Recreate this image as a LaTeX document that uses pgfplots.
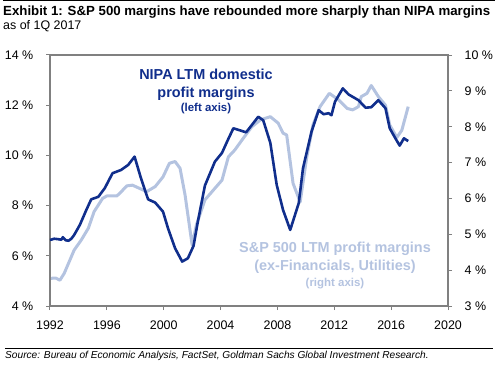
\documentclass[border=0pt]{standalone}
\usepackage{pgfplots}
\pgfplotsset{compat=1.18}
\usepackage{fontspec}
\setmainfont{Liberation Sans}
\definecolor{nipa}{RGB}{16,46,140}
\definecolor{spx}{RGB}{180,195,224}
\definecolor{axgray}{RGB}{128,128,128}
\begin{document}
\begin{tikzpicture}
\path[use as bounding box] (-50bp,-60bp) rectangle (451bp,306bp);
% title block
\draw[black, line width=0.8bp] (-47bp,305.6bp) -- (445bp,305.6bp);
\node[anchor=base west, inner sep=0pt, font=\fontsize{13.3}{15}\selectfont\bfseries] at (-47bp,290.5bp) {Exhibit 1: S\&P 500 margins have rebounded more sharply than NIPA margins};
\node[anchor=base west, inner sep=0pt, font=\fontsize{12.5}{14}\selectfont] at (-47bp,276.5bp) {as of 1Q 2017};
% source
\draw[black, line width=0.8bp] (-45bp,-42.3bp) -- (443bp,-42.3bp);
\node[anchor=base west, inner sep=0pt, font=\fontsize{10.2}{12}\selectfont\itshape] at (-45bp,-52bp) {Source: Bureau of Economic Analysis, FactSet, Goldman Sachs Global Investment Research.};

% right axis (S&P 500) drawn first
\begin{axis}[
  scale only axis, width=398bp, height=251bp,
  xmin=1992, xmax=2020, ymin=3, ymax=10,
  hide x axis,
  axis y line*=right,
  axis line style={axgray, line width=1.3bp},
  ytick={3,4,...,10},
  yticklabels={3 \%,4 \%,5 \%,6 \%,7 \%,8 \%,9 \%,10 \%},
  tick align=outside, major tick length=4bp,
  every tick/.style={axgray, line width=1bp},
  yticklabel style={font=\fontsize{12.5}{14}\selectfont, anchor=west, inner sep=0pt, xshift=12.5bp},
]
\addplot[spx, line width=3bp, line join=round] coordinates {
(1992.0,3.77) (1992.4,3.78) (1992.7,3.72) (1993.0,3.91) (1993.7,4.56) (1994.2,4.84)
(1994.7,5.17) (1995.1,5.63) (1995.7,6.0) (1996.0,6.07) (1996.7,6.07) (1996.9,6.14)
(1997.4,6.35) (1997.8,6.37) (1998.3,6.28) (1998.8,6.19) (1999.4,6.33) (1999.95,6.6)
(2000.4,6.98) (2000.8,7.03) (2001.15,6.84) (2001.5,6.1) (2002.0,4.7) (2002.3,5.26)
(2002.9,5.96) (2003.4,6.19) (2004.1,6.51) (2004.55,7.16) (2005.0,7.35) (2005.6,7.68)
(2006.2,8.0) (2006.8,8.19) (2007.5,8.28) (2008.05,8.1) (2008.4,7.82) (2008.65,7.77)
(2009.1,6.42) (2009.6,5.9) (2010.05,7.12) (2010.5,8.05) (2011.0,8.56) (2011.65,8.93)
(2012.3,8.75) (2012.9,8.51) (2013.3,8.47) (2013.7,8.56) (2013.9,8.84) (2014.3,8.93)
(2014.6,9.15) (2015.1,8.84) (2015.6,8.6) (2015.9,8.05) (2016.4,7.7) (2016.75,7.9)
(2017.2,8.56)
};
\end{axis}

% left axis (NIPA)
\begin{axis}[
  scale only axis, width=398bp, height=251bp,
  xmin=1992, xmax=2020, ymin=4, ymax=14,
  axis line style={axgray, line width=1.3bp},
  xtick={1992,1996,...,2020},
  xticklabels={1992,1996,2000,2004,2008,2012,2016,2020},
  ytick={4,6,...,14},
  yticklabels={4 \%,6 \%,8 \%,10 \%,12 \%,14 \%},
  xtick pos=bottom, ytick pos=left, tick align=outside,
  major tick length=4bp,
  every tick/.style={axgray, line width=1bp},
  yticklabel style={font=\fontsize{12.5}{14}\selectfont, anchor=east, inner sep=0pt, xshift=-12.5bp},
  xticklabel style={font=\fontsize{12.5}{14}\selectfont, inner sep=0pt, yshift=-11bp},
]
\addplot[nipa, line width=2.6bp, line join=round] coordinates {
(1992.0,6.63) (1992.3,6.68) (1992.6,6.66) (1992.8,6.64) (1992.9,6.74) (1993.1,6.62)
(1993.3,6.6) (1993.5,6.68) (1993.7,6.83) (1994.1,7.23) (1994.55,7.82) (1994.9,8.25)
(1995.4,8.35) (1995.85,8.69) (1996.4,9.29) (1997.0,9.42) (1997.5,9.62) (1997.95,9.95)
(1998.4,9.09) (1998.9,8.25) (1999.4,8.12) (1999.95,7.76) (2000.3,7.1) (2000.8,6.3)
(2001.3,5.77) (2001.7,5.9) (2002.1,6.4) (2002.4,7.36) (2002.9,8.8) (2003.6,9.75)
(2004.1,10.1) (2004.5,10.6) (2004.9,11.08) (2005.8,10.92) (2006.65,11.54) (2007.0,11.4)
(2007.5,10.5) (2007.95,8.82) (2008.4,7.82) (2008.9,7.03) (2009.5,8.1) (2009.8,9.49)
(2010.4,10.95) (2010.9,11.8) (2011.25,11.64) (2011.6,11.68) (2011.8,11.6) (2012.05,12.14)
(2012.6,12.67) (2013.0,12.43) (2013.7,12.2) (2014.2,11.9) (2014.6,11.92) (2015.1,12.2)
(2015.6,11.88) (2015.9,11.08) (2016.3,10.68) (2016.6,10.39) (2016.9,10.68) (2017.2,10.57)
};
\end{axis}

% annotations
\node[anchor=base, inner sep=0pt, text=nipa, font=\fontsize{14.5}{16}\selectfont\bfseries] at (156bp,226bp) {NIPA LTM domestic};
\node[anchor=base, inner sep=0pt, text=nipa, font=\fontsize{14.5}{16}\selectfont\bfseries] at (156bp,208bp) {profit margins};
\node[anchor=base, inner sep=0pt, text=nipa, font=\fontsize{11.5}{13}\selectfont\bfseries] at (156bp,194bp) {(left axis)};
\node[anchor=base, inner sep=0pt, text=spx, font=\fontsize{14.5}{16}\selectfont\bfseries] at (285bp,53bp) {S\&P 500 LTM profit margins};
\node[anchor=base, inner sep=0pt, text=spx, font=\fontsize{14.5}{16}\selectfont\bfseries] at (285bp,36bp) {(ex-Financials, Utilities)};
\node[anchor=base, inner sep=0pt, text=spx, font=\fontsize{11.5}{13}\selectfont\bfseries] at (285bp,20bp) {(right axis)};
\end{tikzpicture}
\end{document}
